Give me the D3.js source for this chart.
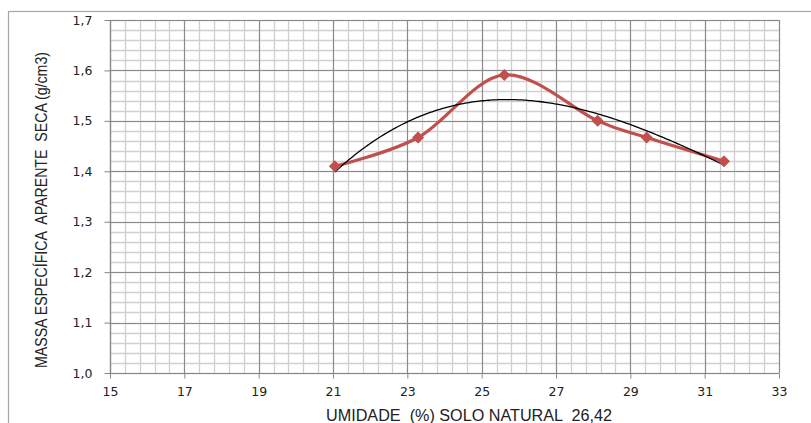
<!DOCTYPE html>
<html>
<head>
<meta charset="utf-8">
<script src="https://cdn.jsdelivr.net/npm/d3@7"></script>
<style>
  html, body { margin: 0; padding: 0; background: #fff; }
  svg { display: block; }
  .title { white-space: pre; }
</style>
</head>
<body>
<script>
// Compaction test: moisture content (%) vs dry unit weight (g/cm3)
const umidade   = [21.05, 23.29, 25.61, 28.12, 29.44, 31.52];
const massaSeca = [1.410, 1.467, 1.591, 1.500, 1.467, 1.420];
const xTickValues = [15, 17, 19, 21, 23, 25, 27, 29, 31, 33];
const yTickValues = [1.0, 1.1, 1.2, 1.3, 1.4, 1.5, 1.6, 1.7];
const xTitle = "UMIDADE  (%) SOLO NATURAL  26,42";
const yTitle = "MASSA ESPECÍFICA  APARENTE  SECA (g/cm3)";
const trendDegree = 3;

const W = 811, H = 423;
const plot = { left: 110, right: 779, top: 20, bottom: 373 };

const svg = d3.select("body").append("svg")
  .attr("width", W).attr("height", H);

// chart frame
svg.append("rect")
  .attr("x", 8.5).attr("y", 11.5)
  .attr("width", 900).attr("height", 600)
  .attr("fill", "none").attr("stroke", "#a6a6a6").attr("stroke-width", 1.2);

const x = d3.scaleLinear().domain([15, 33]).range([plot.left, plot.right]);
const y = d3.scaleLinear().domain([1.0, 1.7]).range([plot.bottom, plot.top]);

const pt = d3.formatLocale({ decimal: ",", thousands: ".", grouping: [3], currency: ["R$", ""] });
const fmt1 = pt.format(".1f");

// minor grid
const xMinor = d3.range(0, 46).map(i => 15 + i * 0.4);
const yMinor = d3.range(0, 36).map(i => 1 + i * 0.02);
const grid = svg.append("g");
grid.selectAll("line.vx").data(xMinor).join("line")
  .attr("x1", d => Math.round(x(d)) + 0.5).attr("x2", d => Math.round(x(d)) + 0.5)
  .attr("y1", plot.top).attr("y2", plot.bottom)
  .attr("stroke", "#cfcfcf").attr("stroke-width", 1.3);
grid.selectAll("line.hy").data(yMinor).join("line")
  .attr("y1", d => Math.round(y(d)) + 0.5).attr("y2", d => Math.round(y(d)) + 0.5)
  .attr("x1", plot.left).attr("x2", plot.right)
  .attr("stroke", "#cfcfcf").attr("stroke-width", 1.3);

// major grid
grid.selectAll("line.mx").data(xTickValues).join("line")
  .attr("x1", d => Math.round(x(d)) + 0.5).attr("x2", d => Math.round(x(d)) + 0.5)
  .attr("y1", plot.top).attr("y2", plot.bottom)
  .attr("stroke", "#8a8a8a").attr("stroke-width", 1.1);
grid.selectAll("line.my").data(yTickValues).join("line")
  .attr("y1", d => Math.round(y(d)) + 0.5).attr("y2", d => Math.round(y(d)) + 0.5)
  .attr("x1", plot.left).attr("x2", plot.right)
  .attr("stroke", "#8a8a8a").attr("stroke-width", 1.1);

// axes
const xAxis = d3.axisBottom(x).tickValues(xTickValues).tickSize(5).tickPadding(9)
  .tickFormat(d => String(d));
const yAxis = d3.axisLeft(y).tickValues(yTickValues).tickSize(6).tickPadding(12)
  .tickFormat(fmt1);

const gx = svg.append("g").attr("transform", `translate(0,${plot.bottom + 0.5})`).call(xAxis);
const gy = svg.append("g").attr("transform", `translate(${plot.left + 0.5},0)`).call(yAxis);
[gx, gy].forEach(g => {
  g.select(".domain").attr("stroke", "#868686").attr("stroke-width", 1.2);
  g.selectAll(".tick line").attr("stroke", "#868686");
  g.selectAll(".tick text")
    .attr("font-family", "'DejaVu Sans', Verdana, sans-serif")
    .attr("font-size", 12.5).attr("fill", "#222");
});
gy.select(".domain").attr("d", `M0,${plot.top}V${plot.bottom}`);
gx.select(".domain").attr("d", `M${plot.left},0H${plot.right}`);

// axis titles
svg.append("text").attr("class", "title")
  .attr("x", 326).attr("y", 421)
  .attr("font-family", "'Liberation Sans', Arial, sans-serif")
  .attr("font-size", 16).attr("fill", "#222")
  .attr("textLength", 286).attr("lengthAdjust", "spacingAndGlyphs")
  .text(xTitle);
svg.append("text").attr("class", "title")
  .attr("transform", "translate(46.5,210) rotate(-90)")
  .attr("text-anchor", "middle")
  .attr("font-family", "'Liberation Sans', Arial, sans-serif")
  .attr("font-size", 16).attr("fill", "#222")
  .attr("textLength", 316).attr("lengthAdjust", "spacingAndGlyphs")
  .text(yTitle);

// data series: smoothed line with diamond markers
const pts = umidade.map((u, i) => [u, massaSeca[i]]);
const line = d3.line().x(d => x(d[0])).y(d => y(d[1])).curve(d3.curveCatmullRom.alpha(0));
svg.append("path").datum(pts)
  .attr("d", line)
  .attr("fill", "none").attr("stroke", "#C0504D").attr("stroke-width", 3.2)
  .attr("stroke-linejoin", "round");

// least-squares polynomial trend line
function polyfit(xs, ys, deg) {
  const n = deg + 1;
  const A = Array.from({ length: n }, () => new Array(n + 1).fill(0));
  const x0 = d3.mean(xs);
  for (let r = 0; r < n; r++) {
    for (let c = 0; c < n; c++) A[r][c] = d3.sum(xs, v => Math.pow(v - x0, r + c));
    A[r][n] = d3.sum(xs, (v, i) => Math.pow(v - x0, r) * ys[i]);
  }
  for (let i = 0; i < n; i++) {
    let p = i;
    for (let k = i + 1; k < n; k++) if (Math.abs(A[k][i]) > Math.abs(A[p][i])) p = k;
    [A[i], A[p]] = [A[p], A[i]];
    for (let k = i + 1; k < n; k++) {
      const f = A[k][i] / A[i][i];
      for (let j = i; j <= n; j++) A[k][j] -= f * A[i][j];
    }
  }
  const coef = new Array(n).fill(0);
  for (let i = n - 1; i >= 0; i--) {
    let s = A[i][n];
    for (let j = i + 1; j < n; j++) s -= A[i][j] * coef[j];
    coef[i] = s / A[i][i];
  }
  return v => coef.reduce((acc, c, k) => acc + c * Math.pow(v - x0, k), 0);
}
const trend = polyfit(umidade, massaSeca, trendDegree);
const [t0, t1] = d3.extent(umidade);
const trendPts = d3.range(0, 201).map(i => {
  const v = t0 + (t1 - t0) * i / 200;
  return [v, trend(v)];
});
svg.append("path").datum(trendPts)
  .attr("d", d3.line().x(d => x(d[0])).y(d => y(d[1])))
  .attr("fill", "none").attr("stroke", "#000").attr("stroke-width", 1.3);

const diamond = d3.symbol(d3.symbolSquare, 56);
svg.append("g").selectAll("path").data(pts).join("path")
  .attr("d", diamond)
  .attr("transform", d => `translate(${x(d[0])},${y(d[1])}) rotate(45)`)
  .attr("fill", "#C0504D").attr("stroke", "#C0504D").attr("stroke-width", 1);
</script>
</body>
</html>
